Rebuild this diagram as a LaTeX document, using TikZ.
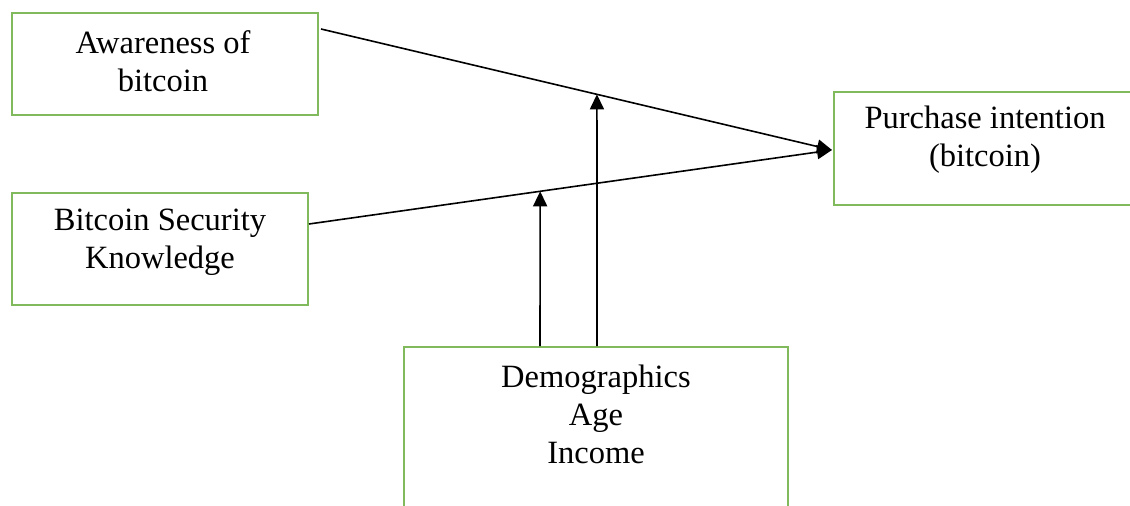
\documentclass[tikz,border=0pt]{standalone}
\usepackage{fontspec}
\setmainfont{Liberation Serif}
\usetikzlibrary{arrows.meta,calc}
\definecolor{boxgreen}{RGB}{128,186,92}
\tikzset{
  box/.style={draw=boxgreen, line width=2pt, fill=white, rectangle, inner sep=0pt},
  lbl/.style={align=center, inner sep=0pt, font=\fontsize{32.5}{38}\selectfont},
  conn/.style={draw=black, line width=1.6pt, -{Triangle[length=15pt,width=14pt]}}
}
\begin{document}
\begin{tikzpicture}[x=1pt,y=-1pt]
\useasboundingbox (0,0) rectangle (1130,506);
\fill[white] (0,0) rectangle (1130,506);
% boxes
\node[box, minimum width=306pt, minimum height=102pt] (aw) at (165,64) {};
\node[box, minimum width=296pt, minimum height=112pt] (sk) at (160,249) {};
\node[box, minimum width=310pt, minimum height=113pt] (pi) at (989,148.5) {};
\node[box, minimum width=384pt, minimum height=180pt] (dm) at (596,437) {};
% labels
\node[lbl] (awt) at (163,61) {Awareness of\\bitcoin};
\node[lbl] (skt) at (160,242) {Bitcoin Security\\Knowledge};
\node[lbl] (pit) at (985,140) {Purchase intention\\(bitcoin)};
\node[lbl] (dmt) at (596,414) {Demographics\\Age\\Income};
% connectors
\coordinate (awo) at ($(aw.north east)+(2,17)$);
\coordinate (pin) at ($(pi.west)+(-1,1.5)$);
\draw[conn] (awo) -- (pin);
\draw[conn] (sk.east |- 0,224) -- (pin);
\coordinate (m1) at ($(sk.east |- 0,224)!0.442!(pin)$);
\coordinate (m2) at ($(awo)!0.54!(pin)$);
\draw[conn] (dm.north -| 540,0) -- (m1);
\draw[conn] (dm.north -| 597,0) -- (m2);
\end{tikzpicture}
\end{document}
